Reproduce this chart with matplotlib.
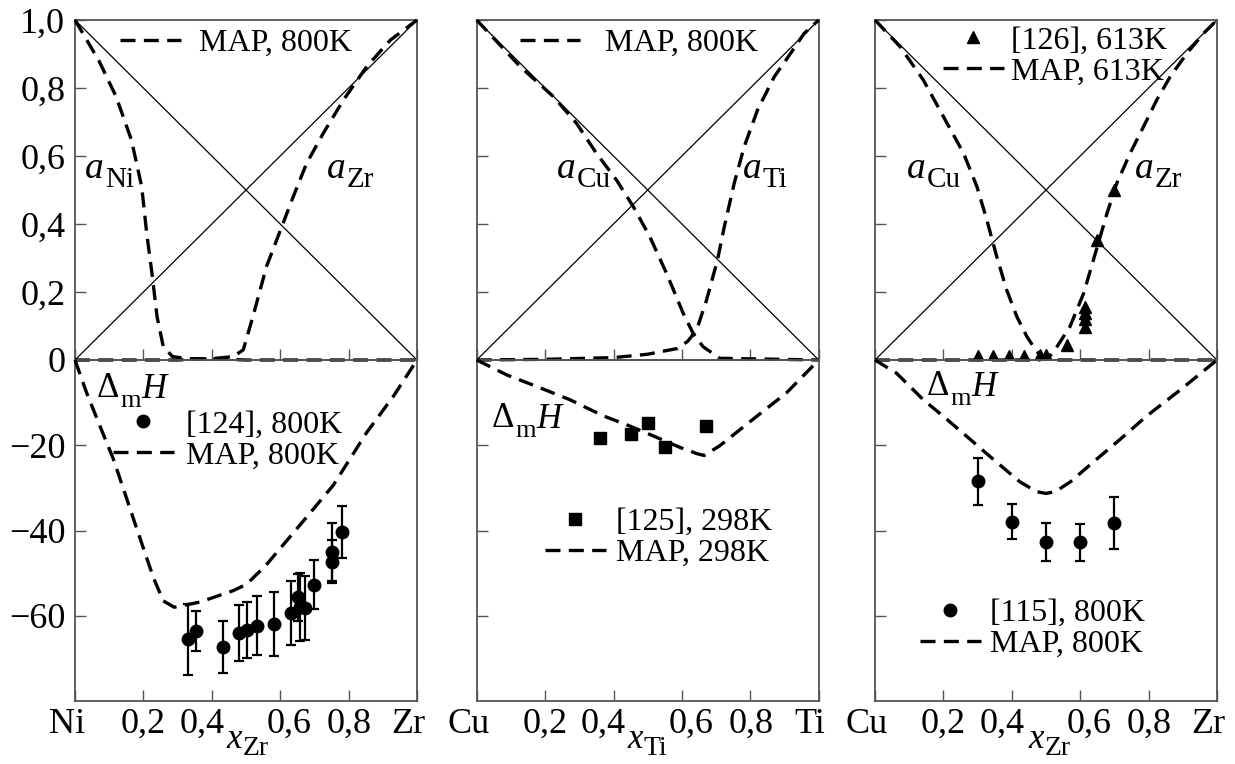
import numpy as np
import matplotlib
matplotlib.use('Agg')
import matplotlib.pyplot as plt
from matplotlib.lines import Line2D
from matplotlib.transforms import ScaledTranslation

plt.rcParams['font.family'] = ['Liberation Serif', 'DejaVu Serif']

# --- Ni-Zr, activities (MAP, 800K) ---
nizr_ani_x = [0, 0.07, 0.12, 0.165, 0.195, 0.21, 0.225, 0.24, 0.258, 0.285, 0.33, 0.42, 0.5, 1.0]
nizr_ani_y = [1, 0.88, 0.775, 0.647, 0.51, 0.37, 0.255, 0.127, 0.04, 0.01, 0.004, 0.003, 0, 0]
nizr_azr_x = [0, 0.3, 0.4, 0.463, 0.492, 0.52, 0.56, 0.6, 0.638, 0.677, 0.726, 0.785, 0.853, 0.921, 1.0]
nizr_azr_y = [0, 0, 0.004, 0.01, 0.03, 0.127, 0.275, 0.38, 0.48, 0.578, 0.667, 0.765, 0.863, 0.94, 1.0]
# Ni-Zr, enthalpy of mixing, kJ/mol
nizr_h_x = [0, 0.034, 0.073, 0.112, 0.151, 0.19, 0.229, 0.258, 0.29, 0.365, 0.463, 0.502,
            0.56, 0.658, 0.755, 0.853, 0.931, 1.0]
nizr_h = [0, -7.7, -15.5, -23.2, -32.5, -41.8, -51, -56.5, -58, -56.8, -54.1, -52.6,
          -48, -38.7, -29.4, -17, -8.5, 0]
ref124_x = [0.331, 0.353, 0.433, 0.48, 0.502, 0.531, 0.582, 0.631, 0.653, 0.658, 0.672,
            0.699, 0.75, 0.75, 0.78]
ref124_h = [-65.5, -63.6, -67.4, -64.0, -63.3, -62.3, -61.9, -59.4, -55.7, -58.0, -58.2,
            -52.7, -45.1, -47.3, -40.4]
ref124_err = [8.3, 4.6, 6.1, 6.5, 6.5, 7.0, 7.5, 7.5, 5.5, 8.0, 7.5, 5.7, 6.8, 5.0, 6.1]

# --- Cu-Ti ---
cuti_acu_x = [0, 0.127, 0.224, 0.292, 0.35, 0.409, 0.458, 0.506, 0.555, 0.604, 0.633, 0.662, 0.711, 1.0]
cuti_acu_y = [1, 0.863, 0.775, 0.696, 0.608, 0.529, 0.451, 0.363, 0.255, 0.137, 0.078, 0.039, 0.005, 0]
cuti_ati_x = [0, 0.2, 0.4, 0.5, 0.587, 0.617, 0.643, 0.672, 0.704, 0.724, 0.753, 0.782, 0.821,
              0.87, 0.918, 0.957, 1.0]
cuti_ati_y = [0, 0.002, 0.007, 0.017, 0.034, 0.055, 0.088, 0.176, 0.294, 0.392, 0.52, 0.627, 0.735,
              0.833, 0.902, 0.96, 1.0]
cuti_h_x = [0, 0.088, 0.175, 0.272, 0.37, 0.448, 0.516, 0.594, 0.645, 0.665, 0.711, 0.808, 0.906, 1.0]
cuti_h = [0, -3.5, -6.2, -9.3, -13.1, -15.5, -17.8, -20.5, -22.0, -22.4, -20.1, -13.9, -7.7, 0]
ref125_x = [0.36, 0.45, 0.5, 0.55, 0.67]
ref125_h = [-18.4, -17.4, -14.7, -20.5, -15.5]

# --- Cu-Zr ---
cuzr_acu_x = [0, 0.073, 0.141, 0.2, 0.259, 0.298, 0.327, 0.356, 0.385, 0.415, 0.444, 0.473, 0.493, 0.52, 1.0]
cuzr_acu_y = [1, 0.922, 0.824, 0.716, 0.608, 0.51, 0.412, 0.304, 0.206, 0.127, 0.069, 0.025, 0.005, 0, 0]
cuzr_azr_x = [0, 0.48, 0.51, 0.532, 0.57, 0.61, 0.649, 0.678, 0.707, 0.746, 0.785, 0.824, 0.863,
              0.912, 0.961, 1.0]
cuzr_azr_y = [0, 0, 0.01, 0.039, 0.098, 0.196, 0.33, 0.43, 0.52, 0.608, 0.686, 0.765, 0.833,
              0.902, 0.961, 1.0]
ref126_x = [0.3, 0.346, 0.393, 0.437, 0.483, 0.501, 0.561, 0.613, 0.613, 0.613, 0.613, 0.65, 0.7]
ref126_a = [0.012, 0.012, 0.012, 0.012, 0.015, 0.015, 0.044, 0.098, 0.121, 0.139, 0.157, 0.353, 0.5]
cuzr_h_x = [0, 0.063, 0.141, 0.21, 0.278, 0.356, 0.424, 0.473, 0.5, 0.527, 0.571, 0.649, 0.717,
            0.795, 0.893, 1.0]
cuzr_h = [0, -3.1, -9.3, -13.9, -18.6, -24.0, -28.6, -30.9, -31.3, -30.9, -28.6, -23.2, -18.6,
          -13.1, -7.0, 0]
ref115_x = [0.3, 0.4, 0.5, 0.6, 0.7]
ref115_h = [-28.5, -37.9, -42.7, -42.8, -38.3]
ref115_err = [5.5, 4.0, 4.4, 4.4, 6.1]

x_ticks = [0, 0.2, 0.4, 0.6, 0.8, 1.0]
a_ticks = [0, 0.2, 0.4, 0.6, 0.8, 1.0]
a_ticklabels = ['0', '0,2', '0,4', '0,6', '0,8', '1,0']
h_ticks = [-60, -40, -20]
h_ticklabels = ['\u221260', '\u221240', '\u221220']

FS = 23
DASH = (0, (4.5, 2.5))
LW = 2.4
SPINE = '#555555'

fig = plt.figure(figsize=(12.35, 7.64), dpi=100)
W, H = 1235.0, 764.0


def style(ax):
    for s in ax.spines.values():
        s.set_color(SPINE)
        s.set_linewidth(1.3)
    ax.tick_params(direction='in', length=8, width=1, color=SPINE, labelsize=26, pad=7)


def make_panel(left_px, first):
    top = fig.add_axes([left_px / W, 1 - 360 / H, 342 / W, 340 / H])
    bot = fig.add_axes([left_px / W, 1 - 701 / H, 342 / W, 341 / H])
    bot.patch.set_alpha(0)
    for ax in (top, bot):
        style(ax)
        ax.set_xlim(0, 1)
        ax.set_xticks(x_ticks)
    top.set_ylim(0, 1)
    top.set_yticks(a_ticks)
    top.tick_params(axis='x', labelbottom=False)
    bot.set_ylim(-80, 0)
    bot.set_yticks(h_ticks)
    bot.tick_params(axis='x', pad=5)
    if first:
        top.set_yticklabels(a_ticklabels)
        bot.set_yticklabels(h_ticklabels)
    else:
        top.tick_params(axis='y', labelleft=False)
        bot.tick_params(axis='y', labelleft=False)
    # ideal solution lines
    top.plot([0, 1], [1, 0], color='black', lw=0.9)
    top.plot([0, 1], [0, 1], color='black', lw=0.9)
    return top, bot


def dashed(ax, x, y):
    ax.plot(x, y, color='black', lw=LW, linestyle=DASH, clip_on=False, zorder=3)


def chain_text(ax, x, y, parts, transform=None):
    # parts: (text, size, style, vertical shift in points)
    if transform is None:
        transform = ax.transData
    s, size, st, dy = parts[0]
    prev = ax.text(x, y, s, fontsize=size, style=st, transform=transform,
                   ha='left', va='baseline')
    for s, size, st, dy in parts[1:]:
        prev = ax.annotate(s, xy=(1, 0), xycoords=prev, xytext=(0.5, dy),
                           textcoords='offset points', fontsize=size, style=st,
                           ha='left', va='bottom', annotation_clip=False)
    return prev


def activity_label(ax, x, elem):
    chain_text(ax, x, 0.535, [('a', 27, 'italic', 0), (elem, 21, 'normal', -5)])


def enthalpy_label(ax, x, y):
    chain_text(ax, x, y, [('\u0394', 25, 'normal', 0), ('m', 19, 'normal', -5),
                          ('H', 25, 'italic', 4.5)], transform=ax.transAxes)


def set_xlabels(ax, left, right, elem, xpos):
    ax.set_xticklabels([left, '0,2', '0,4', '0,6', '0,8', right])
    shifts = [-8, 0, -10, 9, 1, -9]
    for lab, dx in zip(ax.get_xticklabels(), shifts):
        lab.set_transform(lab.get_transform() + ScaledTranslation(dx / 100, 0, fig.dpi_scale_trans))
    chain_text(ax, xpos, -0.138, [('x', 25, 'italic', 0), (elem, 20, 'normal', -3.5)],
               transform=ax.transAxes)


def map_handle():
    return Line2D([], [], color='black', lw=LW, linestyle=DASH)


def add_legend(ax, handles, labels, fx, fy, pad):
    leg = ax.legend(handles, labels, loc='center left', bbox_to_anchor=(fx, fy),
                    frameon=False, fontsize=FS, handlelength=1.9, handletextpad=pad,
                    borderpad=0, borderaxespad=0, labelspacing=0.05, numpoints=1)
    return leg


# Ni-Zr
t1, b1 = make_panel(75, True)
dashed(t1, nizr_ani_x, nizr_ani_y)
dashed(t1, nizr_azr_x, nizr_azr_y)
activity_label(t1, 0.03, 'Ni')
activity_label(t1, 0.737, 'Zr')
add_legend(t1, [map_handle()], ['MAP, 800K'], 0.132, 0.932, 0.56)
dashed(b1, nizr_h_x, nizr_h)
b1.errorbar(ref124_x, ref124_h, yerr=ref124_err, fmt='o', color='black', ms=9,
            elinewidth=1.6, capsize=3.5, capthick=1.6)
enthalpy_label(b1, 0.064, 0.891)
add_legend(b1, [Line2D([], [], marker='o', ls='none', color='black', ms=9), map_handle()],
           ['[124], 800K', 'MAP, 800K'], 0.111, 0.764, 0.38)
set_xlabels(b1, 'Ni', 'Zr', 'Zr', 0.444)

# Cu-Ti
t2, b2 = make_panel(476.7, False)
dashed(t2, cuti_acu_x, cuti_acu_y)
dashed(t2, cuti_ati_x, cuti_ati_y)
activity_label(t2, 0.235, 'Cu')
activity_label(t2, 0.778, 'Ti')
add_legend(t2, [map_handle()], ['MAP, 800K'], 0.126, 0.932, 0.78)
dashed(b2, cuti_h_x, cuti_h)
b2.plot(ref125_x, ref125_h, 's', color='black', ms=8)
enthalpy_label(b2, 0.045, 0.804)
add_legend(b2, [Line2D([], [], marker='s', ls='none', color='black', ms=8), map_handle()],
           ['[125], 298K', 'MAP, 298K'], 0.2, 0.479, 0.31)
set_xlabels(b2, 'Cu', 'Ti', 'Ti', 0.442)

# Cu-Zr
t3, b3 = make_panel(875, False)
dashed(t3, cuzr_acu_x, cuzr_acu_y)
dashed(t3, cuzr_azr_x, cuzr_azr_y)
t3.plot(ref126_x, ref126_a, '^', color='black', ms=8, zorder=4)
activity_label(t3, 0.094, 'Cu')
activity_label(t3, 0.761, 'Zr')
add_legend(t3, [Line2D([], [], marker='^', ls='none', color='black', ms=8), map_handle()],
           ['[126], 613K', 'MAP, 613K'], 0.199, 0.893, 0.22)
dashed(b3, cuzr_h_x, cuzr_h)
b3.errorbar(ref115_x, ref115_h, yerr=ref115_err, fmt='o', color='black', ms=9,
            elinewidth=1.6, capsize=3.5, capthick=1.6)
enthalpy_label(b3, 0.152, 0.897)
add_legend(b3, [Line2D([], [], marker='o', ls='none', color='black', ms=9), map_handle()],
           ['[115], 800K', 'MAP, 800K'], 0.132, 0.211, 0.28)
set_xlabels(b3, 'Cu', 'Zr', 'Zr', 0.45)

fig.savefig('out.png', dpi=100)
